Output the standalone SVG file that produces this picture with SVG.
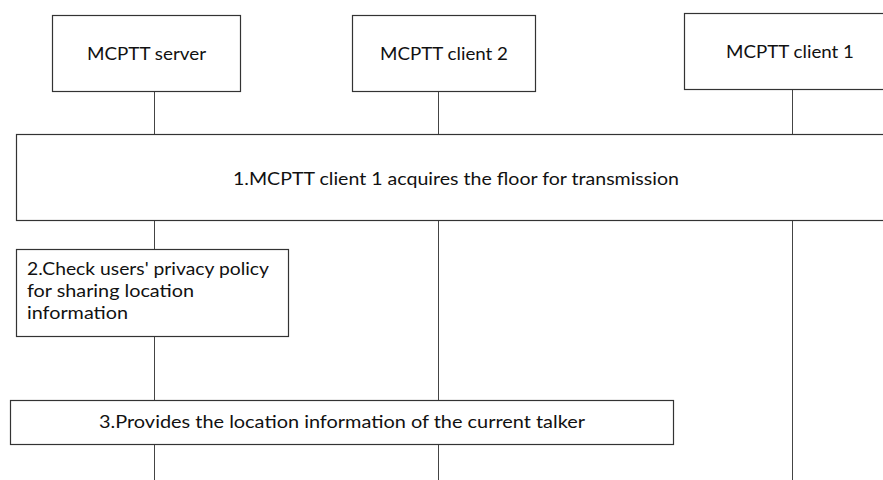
<svg xmlns="http://www.w3.org/2000/svg" width="883" height="480" viewBox="0 0 883 480">
<style>
.box{fill:#fff;stroke:#333;stroke-width:1.2}
.life{stroke:#444;stroke-width:1;fill:none}
text{font-family:Lato,"Liberation Sans",sans-serif;font-size:17px;fill:#111}
</style>
<rect width="883" height="480" fill="#fff"/>
<g id="connectors">
<line class="life" x1="154.5" y1="91" x2="154.5" y2="134"/>
<line class="life" x1="154.5" y1="221" x2="154.5" y2="249"/>
<line class="life" x1="154.5" y1="337" x2="154.5" y2="400"/>
<line class="life" x1="154.5" y1="444" x2="154.5" y2="480"/>
<line class="life" x1="438.5" y1="91" x2="438.5" y2="134"/>
<line class="life" x1="438.5" y1="221" x2="438.5" y2="400"/>
<line class="life" x1="438.5" y1="444" x2="438.5" y2="480"/>
<line class="life" x1="792.5" y1="89" x2="792.5" y2="134"/>
<line class="life" x1="792.5" y1="221" x2="792.5" y2="480"/>
</g>
<g id="server">
<rect class="box" x="52.5" y="15.5" width="188" height="76"/>
<text x="87" y="60" textLength="119" lengthAdjust="spacingAndGlyphs">MCPTT server</text>
</g>
<g id="client2">
<rect class="box" x="352.5" y="15.5" width="183" height="76"/>
<text x="380" y="60" textLength="128" lengthAdjust="spacingAndGlyphs">MCPTT client 2</text>
</g>
<g id="client1">
<rect class="box" x="684.5" y="13.5" width="210" height="76"/>
<text x="726" y="58" textLength="128" lengthAdjust="spacingAndGlyphs">MCPTT client 1</text>
</g>
<g id="step1">
<rect class="box" x="16.5" y="134.5" width="880" height="86"/>
<text x="233" y="185" textLength="446" lengthAdjust="spacingAndGlyphs">1.MCPTT client 1 acquires the floor for transmission</text>
</g>
<g id="step2">
<rect class="box" x="16.5" y="249.5" width="272" height="87"/>
<text x="27" y="275" textLength="242" lengthAdjust="spacingAndGlyphs">2.Check users' privacy policy</text>
<text x="27" y="297" textLength="167" lengthAdjust="spacingAndGlyphs">for sharing location</text>
<text x="27" y="319" textLength="101" lengthAdjust="spacingAndGlyphs">information</text>
</g>
<g id="step3">
<rect class="box" x="10.5" y="400.5" width="663" height="44"/>
<text x="99" y="428" textLength="486" lengthAdjust="spacingAndGlyphs">3.Provides the location information of the current talker</text>
</g>
</svg>
